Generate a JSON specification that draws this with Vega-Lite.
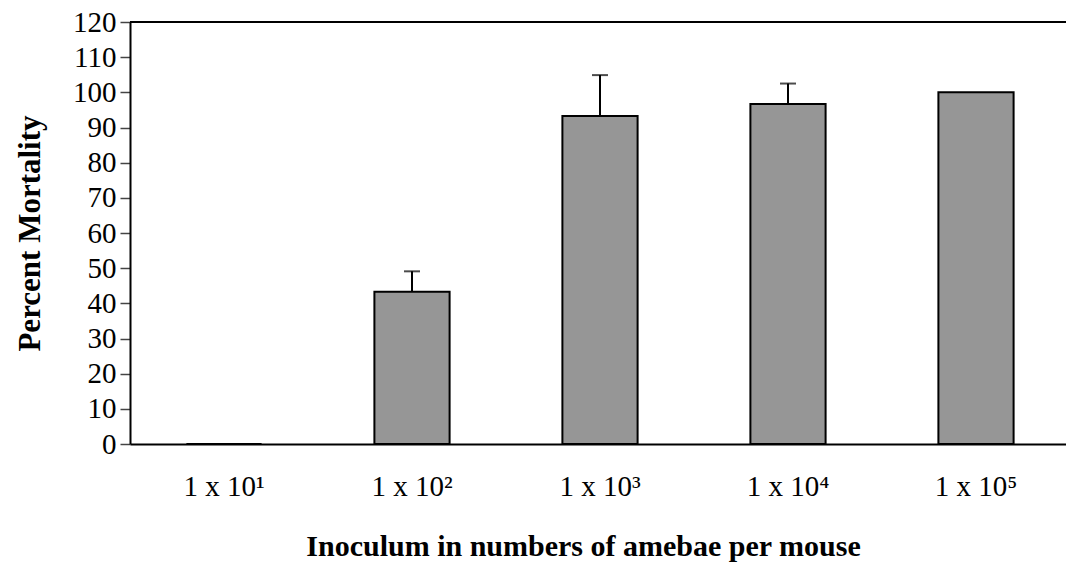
{
  "$schema": "https://vega.github.io/schema/vega-lite/v6.json",
  "width": 936,
  "height": 422,
  "autosize": {"type": "none"},
  "padding": {"left": 130, "top": 22, "right": 0, "bottom": 125},
  "background": "white",
  "config": {
    "view": {"stroke": null},
    "font": "Liberation Serif",
    "axis": {"labelFont": "Liberation Serif", "titleFont": "Liberation Serif", "labelColor": "black", "titleColor": "black", "grid": false, "domainColor": "black", "domainWidth": 2},
    "axisX": {"titleFontSize": 30, "titleFontWeight": "bold", "titlePadding": 30, "labelFontSize": 29, "labelAngle": 0, "labelPadding": 28, "labelDx": -20, "ticks": false},
    "axisY": {"titleFontSize": 31, "titleFontWeight": "bold", "titlePadding": 26, "labelFontSize": 29, "labelPadding": 4, "tickSize": 10, "tickColor": "#444444", "tickWidth": 1.5}
  },
  "data": {
    "values": [
      {"dose": "1 x 10¹", "mortality": 0, "upper": 0},
      {"dose": "1 x 10²", "mortality": 43.3, "upper": 49.1},
      {"dose": "1 x 10³", "mortality": 93.3, "upper": 104.9},
      {"dose": "1 x 10⁴", "mortality": 96.7, "upper": 102.5},
      {"dose": "1 x 10⁵", "mortality": 100, "upper": 100}
    ]
  },
  "layer": [
    {
      "mark": {"type": "bar", "fill": "#969696", "stroke": "black", "strokeWidth": 2},
      "encoding": {
        "x": {
          "field": "dose", "type": "nominal", "sort": null,
          "scale": {"range": [0, 940], "paddingInner": 0.6, "paddingOuter": 0.3},
          "axis": {"title": "Inoculum in numbers of amebae per mouse", "titleX": 453}
        },
        "y": {
          "field": "mortality", "type": "quantitative",
          "scale": {"domain": [0, 120], "nice": false},
          "axis": {"title": "Percent Mortality", "values": [0,10,20,30,40,50,60,70,80,90,100,110,120]}
        }
      }
    },
    {
      "transform": [{"filter": "datum.upper > datum.mortality"}],
      "mark": {"type": "rule", "color": "black", "strokeWidth": 2},
      "encoding": {
        "x": {"field": "dose", "type": "nominal", "sort": null,
          "axis": {"title": "Inoculum in numbers of amebae per mouse", "titleX": 453}},
        "y": {"field": "mortality", "type": "quantitative",
          "axis": {"title": "Percent Mortality", "values": [0,10,20,30,40,50,60,70,80,90,100,110,120]}},
        "y2": {"field": "upper"}
      }
    },
    {
      "transform": [{"filter": "datum.upper > datum.mortality"}],
      "mark": {"type": "tick", "color": "black", "size": 16, "thickness": 2},
      "encoding": {
        "x": {"field": "dose", "type": "nominal", "sort": null,
          "axis": {"title": "Inoculum in numbers of amebae per mouse", "titleX": 453}},
        "y": {"field": "upper", "type": "quantitative",
          "axis": {"title": "Percent Mortality", "values": [0,10,20,30,40,50,60,70,80,90,100,110,120]}}
      }
    },
    {
      "mark": {"type": "rule", "color": "black", "strokeWidth": 2},
      "encoding": {
        "y": {"datum": 120, "type": "quantitative",
          "axis": {"title": "Percent Mortality", "values": [0,10,20,30,40,50,60,70,80,90,100,110,120]}}
      }
    }
  ]
}
